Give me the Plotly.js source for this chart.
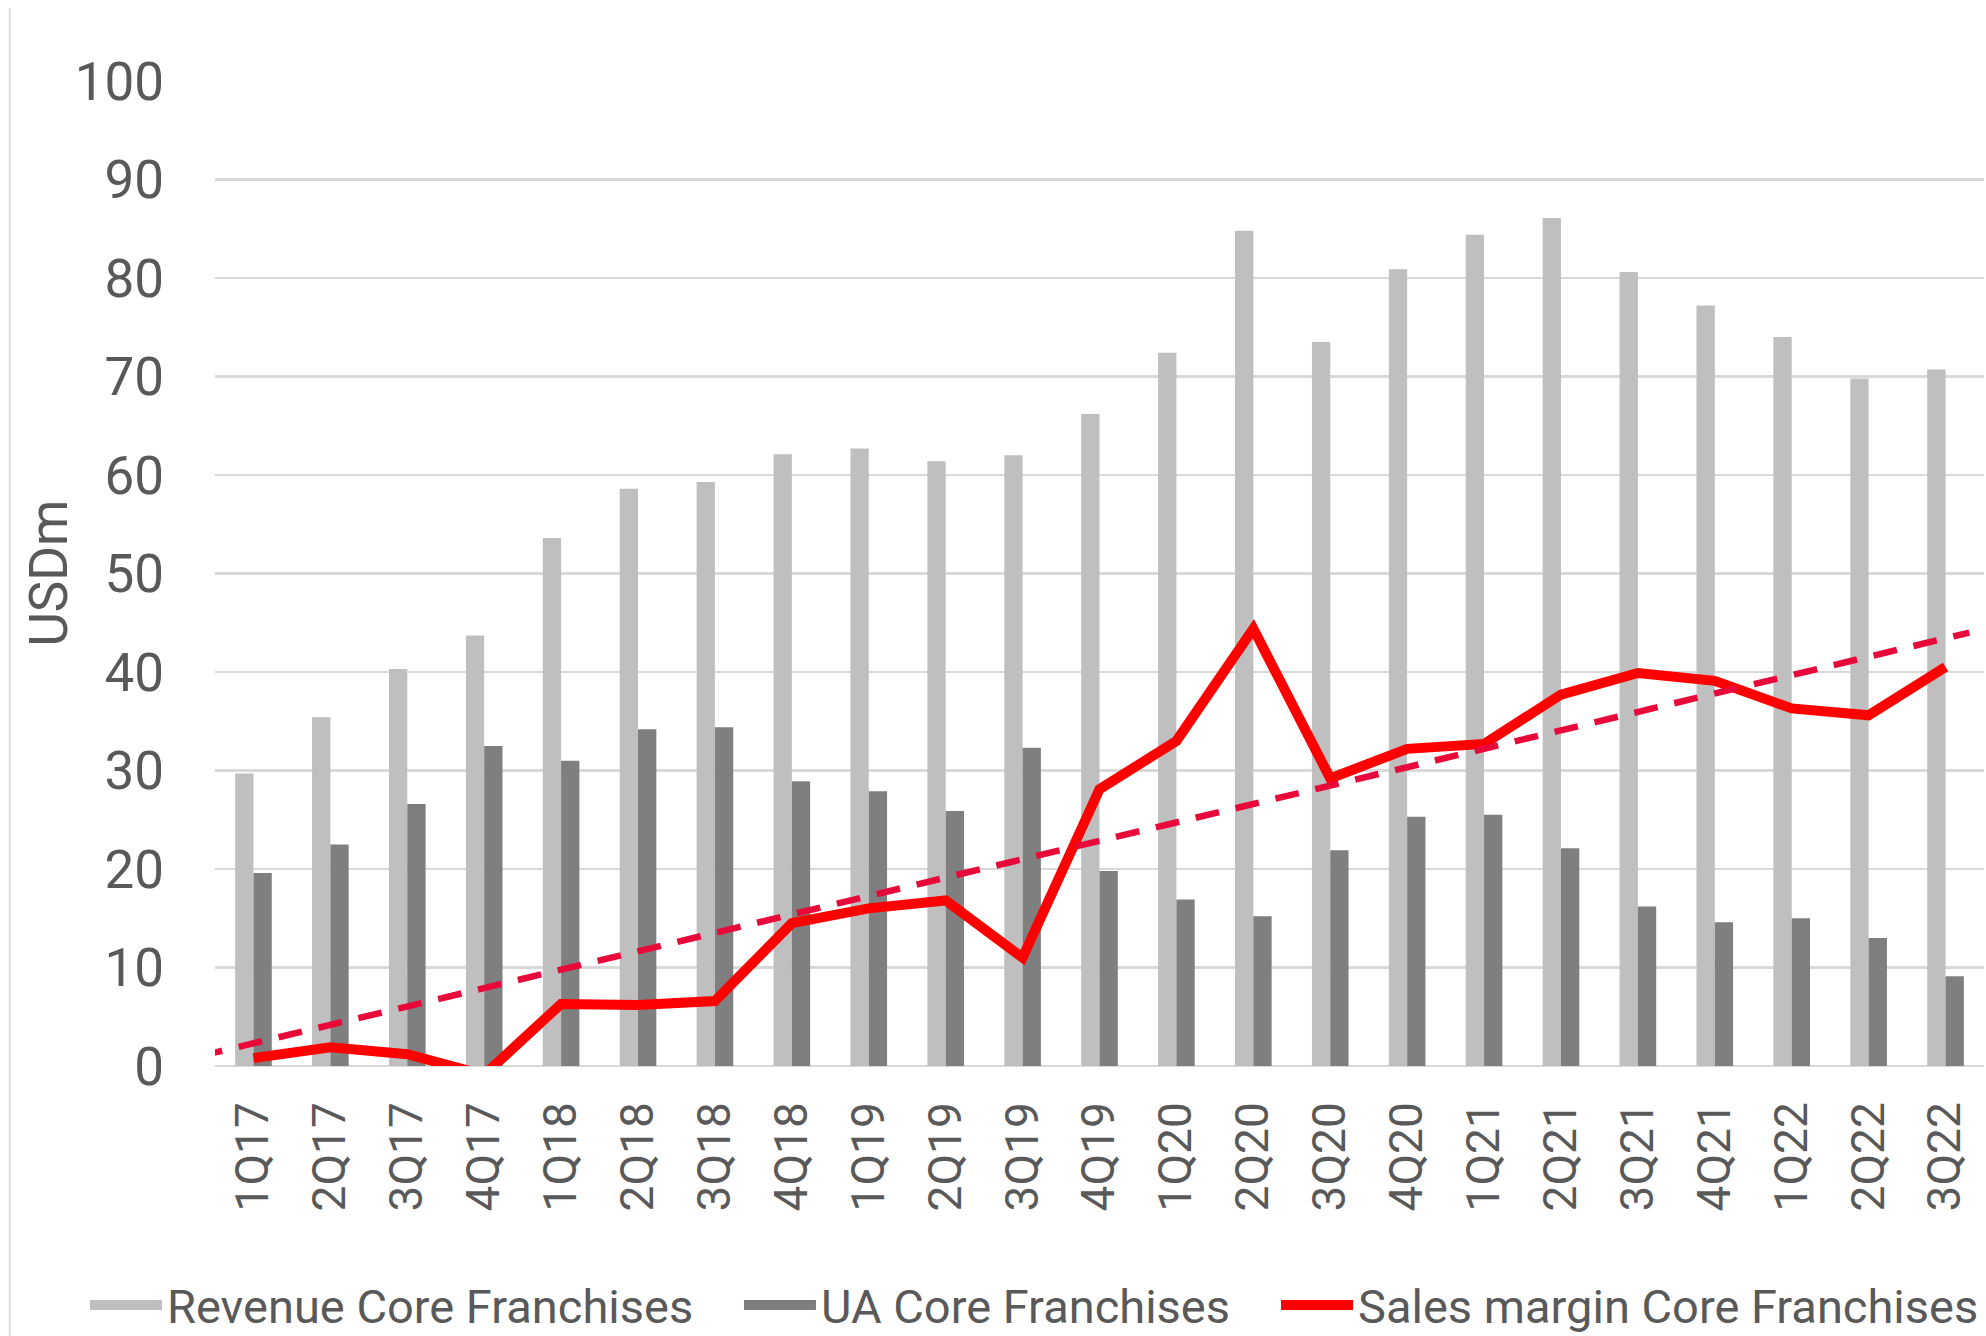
<!DOCTYPE html>
<html>
<head>
<meta charset="utf-8">
<script src="https://cdn.plot.ly/plotly-3.0.1.min.js"></script>
<style>
  html, body { margin: 0; padding: 0; background: #ffffff; }
  #chart { width: 1986px; height: 1336px; }
</style>
</head>
<body>
<div id="chart"></div>
<script>
// ---- Data (USDm) ----
const quarters = ['1Q17','2Q17','3Q17','4Q17','1Q18','2Q18','3Q18','4Q18','1Q19','2Q19','3Q19','4Q19',
                  '1Q20','2Q20','3Q20','4Q20','1Q21','2Q21','3Q21','4Q21','1Q22','2Q22','3Q22'];
const revenueCore = [29.7, 35.4, 40.3, 43.7, 53.6, 58.6, 59.3, 62.1, 62.7, 61.4, 62.0, 66.2,
                     72.4, 84.8, 73.5, 80.9, 84.4, 86.1, 80.6, 77.2, 74.0, 69.8, 70.7];
const uaCore = [19.6, 22.5, 26.6, 32.5, 31.0, 34.2, 34.4, 28.9, 27.9, 25.9, 32.3, 19.8,
                16.9, 15.2, 21.9, 25.3, 25.5, 22.1, 16.2, 14.6, 15.0, 13.0, 9.1];
const salesMargin = [0.8, 1.9, 1.2, -0.9, 6.3, 6.2, 6.6, 14.5, 16.0, 16.8, 11.0, 28.1,
                     33.0, 44.4, 29.2, 32.2, 32.7, 37.7, 39.9, 39.1, 36.3, 35.6, 40.5];
// Trend line (as drawn in the source): position in quarter-index units and value
const trendIndex = [-0.71, 22.31];
const trendValue = [0.98, 44.0];

const yTicks = [0, 10, 20, 30, 40, 50, 60, 70, 80, 90, 100];
const yTitle = 'USDm';
const seriesNames = ['Revenue Core Franchises', 'UA Core Franchises', 'Sales margin Core Franchises'];

const idx = quarters.map((q, i) => i);
const FONT = 'Roboto, "Open Sans", sans-serif';
const TXT = '#595959';
const C_REV = '#BFBFBF', C_UA = '#7F7F7F', C_SM = '#FF0000', C_TREND = '#E8083A';

const traces = [
  { type: 'bar', name: seriesNames[0], x: idx, y: revenueCore, marker: { color: C_REV }, showlegend: false },
  { type: 'bar', name: seriesNames[1], x: idx, y: uaCore, marker: { color: C_UA }, showlegend: false },
  {
    type: 'scatter', mode: 'lines', name: seriesNames[2], x: idx, y: salesMargin,
    line: { color: C_SM, width: 10 }, legend: 'legend3'
  },
  {
    type: 'scatter', mode: 'lines', name: 'Trend', showlegend: false,
    x: trendIndex, y: trendValue,
    line: { color: C_TREND, width: 6.5, dash: '24px,17px' }
  },
  // legend keys for the bar series (wide rectangles, as in the source)
  { type: 'scatter', mode: 'lines', name: seriesNames[0], x: [null], y: [null],
    line: { color: C_REV, width: 10 }, legend: 'legend' },
  { type: 'scatter', mode: 'lines', name: seriesNames[1], x: [null], y: [null],
    line: { color: C_UA, width: 10 }, legend: 'legend2' }
];

const legendBase = (x) => ({
  orientation: 'h', x: x, xanchor: 'left', y: -0.243, yanchor: 'middle',
  font: { family: FONT, size: 47, color: TXT }, itemwidth: 72, itemsizing: 'trace',
  bgcolor: 'rgba(0,0,0,0)', borderwidth: 0
});

const layout = {
  width: 1986, height: 1336,
  paper_bgcolor: '#ffffff', plot_bgcolor: '#ffffff',
  margin: { l: 215, r: 2, t: 81, b: 270, pad: 0, autoexpand: false },
  font: { family: FONT, color: TXT },
  barmode: 'group', bargap: 0.524, bargroupgap: 0,
  showlegend: true,
  legend: legendBase(-0.0735),
  legend2: legendBase(0.2962),
  legend3: legendBase(0.5998),
  xaxis: {
    type: 'linear', range: [-0.5, 22.5],
    tickmode: 'array', tickvals: idx, ticktext: quarters,
    tickangle: -90, tickfont: { family: FONT, size: 46, color: TXT },
    ticks: '', showgrid: false, zeroline: false,
    showline: false, ticklabelstandoff: 26, fixedrange: true, automargin: false
  },
  yaxis: {
    range: [0, 100], tickmode: 'array', tickvals: yTicks,
    tickfont: { family: FONT, size: 53, color: TXT },
    ticks: '', showgrid: true, gridcolor: '#D9D9D9', gridwidth: 2.5,
    zeroline: true, zerolinecolor: '#D9D9D9', zerolinewidth: 2.5,
    showline: false, ticklabelstandoff: 50, automargin: false,
    fixedrange: true
  },
  annotations: [
    { text: yTitle, xref: 'paper', yref: 'paper', x: -0.0944, y: 0.5, textangle: -90,
      showarrow: false, xanchor: 'center', yanchor: 'middle',
      font: { family: FONT, size: 53, color: TXT } }
  ],
  shapes: [
    { type: 'line', xref: 'paper', yref: 'paper', x0: -0.116, x1: -0.116, y0: -0.275, y1: 1.074,
      line: { color: '#D9D9D9', width: 2 } }
  ]
};

Plotly.newPlot('chart', traces, layout, { displayModeBar: false, staticPlot: true });
</script>
</body>
</html>
